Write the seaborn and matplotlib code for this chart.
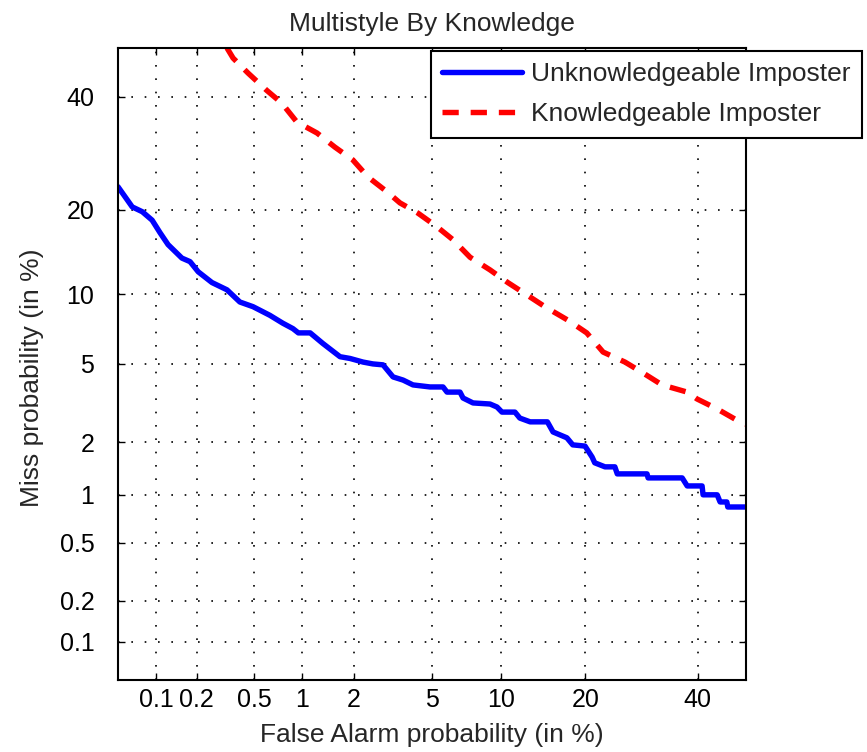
import numpy as np
import pandas as pd
import matplotlib
matplotlib.use("Agg")
import matplotlib.pyplot as plt
import seaborn as sns
from statistics import NormalDist

# ---- data (percent) ----
unk_fa = [0.05, 0.065, 0.078, 0.093, 0.107, 0.123, 0.156, 0.179, 0.205, 0.257,
          0.327, 0.40, 0.49, 0.63, 0.76, 0.88, 0.95, 1.12, 1.33, 1.67,
          1.9, 2.24, 2.53, 2.86, 3.22, 3.62, 4.05, 4.89, 5.62, 5.86,
          6.70, 6.91, 7.63, 8.99, 9.6, 10.05, 11.3, 11.8, 12.9, 14.9,
          15.6, 17.4, 18.2, 19.95, 21.0, 21.4, 23.0, 24.6, 25.0, 30.2,
          30.4, 36.9, 37.9, 40.9, 41.1, 44.0, 44.6, 46.0, 46.2, 50.0]
unk_miss = [23.5, 20.4, 19.7, 18.5, 16.8, 15.3, 13.7, 13.3, 12.2, 11.1,
            10.4, 9.3, 8.9, 8.2, 7.6, 7.2, 6.9, 6.9, 6.2, 5.4,
            5.3, 5.1, 5.0, 4.95, 4.34, 4.19, 3.97, 3.88, 3.88, 3.66,
            3.66, 3.42, 3.23, 3.19, 3.08, 2.90, 2.90, 2.70, 2.58, 2.58,
            2.28, 2.12, 1.94, 1.91, 1.66, 1.54, 1.46, 1.46, 1.33, 1.33,
            1.26, 1.26, 1.13, 1.13, 1.0, 1.0, 0.905, 0.905, 0.843, 0.843]

kno_fa = [0.327, 0.36, 0.454, 0.60, 0.75, 0.93, 1.23, 1.56, 1.97, 2.38,
          3.0, 3.49, 4.28, 5.27, 6.24, 7.41, 8.99, 10.6, 12.6, 14.6,
          17.6, 20.2, 22.7, 26.3, 29.5, 33.0, 37.9, 39.9, 44.0, 48.7, 50.0]
kno_miss = [50.0, 47.9, 44.8, 41.3, 38.7, 35.0, 32.9, 30.3, 28.0, 25.1,
            22.7, 21.0, 19.5, 17.6, 15.9, 13.8, 12.4, 11.1, 9.9, 8.9,
            7.8, 6.9, 5.67, 5.1, 4.53, 3.97, 3.66, 3.38, 3.01, 2.58, 2.51]

tick_vals = [0.1, 0.2, 0.5, 1, 2, 5, 10, 20, 40]
tick_labels = ["0.1", "0.2", "0.5", "1", "2", "5", "10", "20", "40"]
series_names = ["Unknowledgeable Imposter", "Knowledgeable Imposter"]

# ---- normal deviate scale ----
_nd = NormalDist()

def _fwd(v):
    a = np.asarray(v, dtype=float)
    flat = np.clip(a.ravel() / 100.0, 1e-12, 1 - 1e-12)
    return np.array([_nd.inv_cdf(p) for p in flat]).reshape(a.shape)

def _inv(v):
    a = np.asarray(v, dtype=float)
    return np.array([_nd.cdf(z) * 100.0 for z in a.ravel()]).reshape(a.shape)

sns.set_style("ticks")
plt.rcParams["font.family"] = ["Liberation Sans", "DejaVu Sans"]

fig = plt.figure(figsize=(8.67, 7.52), dpi=100)
ax = fig.add_axes([118 / 867, 72 / 752, 628 / 867, 632 / 752])
ax.set_xscale("function", functions=(_fwd, _inv))
ax.set_yscale("function", functions=(_fwd, _inv))

df_u = pd.DataFrame({"fa": unk_fa, "miss": unk_miss})
df_k = pd.DataFrame({"fa": kno_fa, "miss": kno_miss})

sns.lineplot(data=df_u, x="fa", y="miss", ax=ax, color="#0000ff", lw=3.9,
             sort=False, estimator=None, label=series_names[0])
sns.lineplot(data=df_k, x="fa", y="miss", ax=ax, color="#ff0000", lw=3.9,
             sort=False, estimator=None, label=series_names[1])
ax.lines[1].set_dashes((3.0, 2.2))

ax.set_xlim(0.05, 50)
ax.set_ylim(0.05, 50)
ax.set_xticks(tick_vals)
ax.set_xticklabels(tick_labels)
ax.set_yticks(tick_vals)
ax.set_yticklabels(tick_labels)
ax.minorticks_off()

ax.tick_params(axis="both", which="major", direction="in", length=5, width=1,
               top=True, right=True, labelsize=18, colors="black")
ax.tick_params(axis="x", pad=6)
ax.tick_params(axis="y", pad=17)
ax.grid(True, color="black", linestyle=(0, (1, 7)), linewidth=1.2)
for s in ax.spines.values():
    s.set_color("black")
    s.set_linewidth(1.5)

ax.set_xlabel("False Alarm probability (in %)", fontsize=19)
ax.xaxis.set_label_coords(0.5, (680 - 723) / 632)
ax.set_ylabel("Miss probability (in %)", fontsize=19)
ax.yaxis.set_label_coords((44 - 118) / 628, 0.479)
ax.set_title("Multistyle By Knowledge", fontsize=19, pad=12)

leg = ax.legend(loc="upper right", bbox_to_anchor=(1.185, 0.996), fontsize=19,
                frameon=True, fancybox=False, framealpha=1, edgecolor="black",
                handlelength=3.0, borderpad=0.45, labelspacing=0.6,
                handletextpad=0.35, borderaxespad=0)
leg.get_frame().set_linewidth(1.5)

fig.savefig("out.png", dpi=100, facecolor="white")
